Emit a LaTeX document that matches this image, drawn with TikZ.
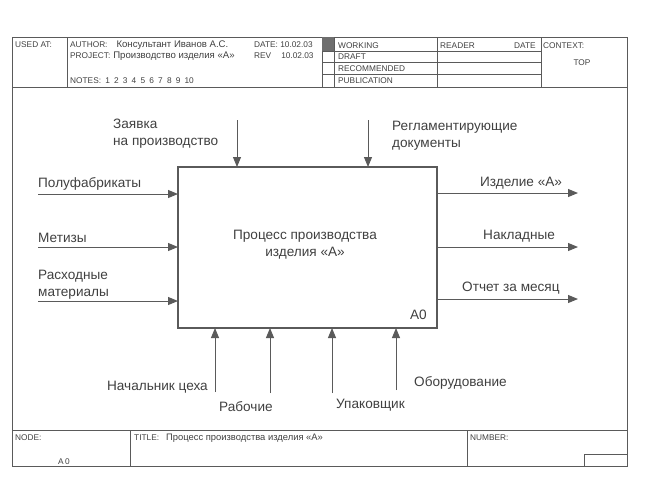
\documentclass[tikz,border=0pt]{standalone}
\usepackage{fontspec}
\setmainfont{Liberation Sans}
\usetikzlibrary{arrows.meta,positioning}
\definecolor{idefline}{HTML}{5A5A5A}
\definecolor{idefink}{HTML}{404040}
\definecolor{idefmark}{HTML}{6E6E6E}
\tikzset{
  frameLine/.style={draw=idefline, line width=0.8pt},
  boxLine/.style={draw=idefline, line width=1.2pt},
  headText/.style={font=\fontsize{8.3}{9}\selectfont, text=idefink, inner sep=0pt, anchor=base west},
  arcLabel/.style={font=\fontsize{13.6}{17}\selectfont, text=idefink, align=left, inner sep=0pt},
  boxText/.style={font=\fontsize{13.6}{17}\selectfont, text=idefink, align=center},
  arcArrow/.style={-{Triangle[length=10pt, width=8pt]}, draw=idefline, line width=1pt}
}
\newcommand{\gapnum}{\hspace{4.2pt}}
\begin{document}
\begin{tikzpicture}[x=1pt, y=-1pt]
  \useasboundingbox (0,0) rectangle (648,480);

  % frame and header
  \draw[frameLine] (12,37) rectangle (627,466);
  \draw[frameLine] (12,87) -- (627,87);
  \draw[frameLine] (67,37) -- (67,87);
  \draw[frameLine] (322,37) -- (322,87);
  \draw[frameLine] (334,37) -- (334,87);
  \draw[frameLine] (437,37) -- (437,87);
  \draw[frameLine] (541,37) -- (541,87);
  \foreach \y in {51,62,74} \draw[frameLine] (322,\y) -- (541,\y);
  \fill[idefmark] (322,37) rectangle (334,51);

  \node[headText] (usedat) at (15,47) {USED AT:};
  \node[headText] (author) at (70,47) {AUTHOR:\hspace{9pt}\fontsize{9.6}{10}\selectfont Консультант Иванов А.С.};
  \node[headText] (project) at (70,58) {PROJECT:\hspace{3pt}\fontsize{9.6}{10}\selectfont Производство изделия «А»};
  \node[headText] (date) at (254,47) {DATE:\ 10.02.03};
  \node[headText] (rev) at (254,58) {REV\hspace{10pt}10.02.03};
  \node[headText] (notes) at (70,83) {NOTES:\gapnum 1\gapnum 2\gapnum 3\gapnum 4\gapnum 5\gapnum 6\gapnum 7\gapnum 8\gapnum 9\gapnum 10};
  \node[headText] (working) at (338,48) {WORKING};
  \node[headText] (draft) at (338,59) {DRAFT};
  \node[headText] (recommended) at (338,71) {RECOMMENDED};
  \node[headText] (publication) at (338,83) {PUBLICATION};
  \node[headText] (reader) at (440,48) {READER};
  \node[headText] (rdate) at (514,48) {DATE};
  \node[headText] (context) at (543,48) {CONTEXT:};
  \node[headText, anchor=base] (top) at (582,65) {TOP};

  % footer
  \draw[frameLine] (12,430) -- (627,430);
  \draw[frameLine] (130,430) -- (130,466);
  \draw[frameLine] (467,430) -- (467,466);
  \draw[frameLine] (584,466) |- (627,454);
  \node[headText] (node) at (15,440) {NODE:};
  \node[headText] (nodeid) at (58,464) {A\,0};
  \node[headText] (title) at (134,440) {TITLE:\hspace{7pt}\fontsize{9.4}{10}\selectfont Процесс производства изделия «А»};
  \node[headText] (number) at (470,440) {NUMBER:};

  % activity box
  \draw[boxLine] (178,167) rectangle (437,328);
  \node[boxText] (act) at (305,245) {Процесс производства\\изделия «А»};
  \node[boxText, anchor=south east, inner sep=0pt] (actid) at (427,320) {A0};

  % controls
  \node[arcLabel, anchor=base west] (order) at (113,145) {Заявка\\на производство};
  \node[arcLabel, anchor=base west] (rules) at (392,147) {Регламентирующие\\документы};
  \coordinate (ctl1) at (237,120);
  \coordinate (ctl1e) at (237,167);
  \coordinate (ctl2) at (368,120);
  \coordinate (ctl2e) at (368,167);
  \draw[arcArrow] (ctl1) -- (ctl1e);
  \draw[arcArrow] (ctl2) -- (ctl2e);

  % inputs
  \node[arcLabel, anchor=base west] (semi) at (38,187) {Полуфабрикаты};
  \node[arcLabel, anchor=base west] (hardware) at (38,242) {Метизы};
  \node[arcLabel, anchor=base west] (consum) at (38,296) {Расходные\\материалы};
  \foreach \n/\y in {1/194,2/247,3/301}{
    \coordinate (in\n) at (38,\y);
    \coordinate (in\n e) at (178,\y);
    \draw[arcArrow] (in\n) -- (in\n e);
  }

  % outputs
  \node[arcLabel, anchor=base west] (product) at (480,186) {Изделие «А»};
  \node[arcLabel, anchor=base west] (waybill) at (483,239) {Накладные};
  \node[arcLabel, anchor=base west] (report) at (462,291) {Отчет за месяц};
  \foreach \n/\y in {1/193,2/247,3/299}{
    \coordinate (out\n) at (437,\y);
    \coordinate (out\n e) at (578,\y);
    \draw[arcArrow] (out\n) -- (out\n e);
  }

  % mechanisms
  \node[arcLabel, anchor=base east] (chief) at (208,390) {Начальник цеха};
  \node[arcLabel, anchor=base west] (workers) at (219,411) {Рабочие};
  \node[arcLabel, anchor=base west] (packer) at (336,408) {Упаковщик};
  \node[arcLabel, anchor=base west] (equip) at (414,386) {Оборудование};
  \foreach \n/\x/\y in {1/215/392,2/270/393,3/332/393,4/396/390}{
    \coordinate (mec\n) at (\x,\y);
    \coordinate (mec\n e) at (\x,328);
    \draw[arcArrow] (mec\n) -- (mec\n e);
  }
\end{tikzpicture}
\end{document}
